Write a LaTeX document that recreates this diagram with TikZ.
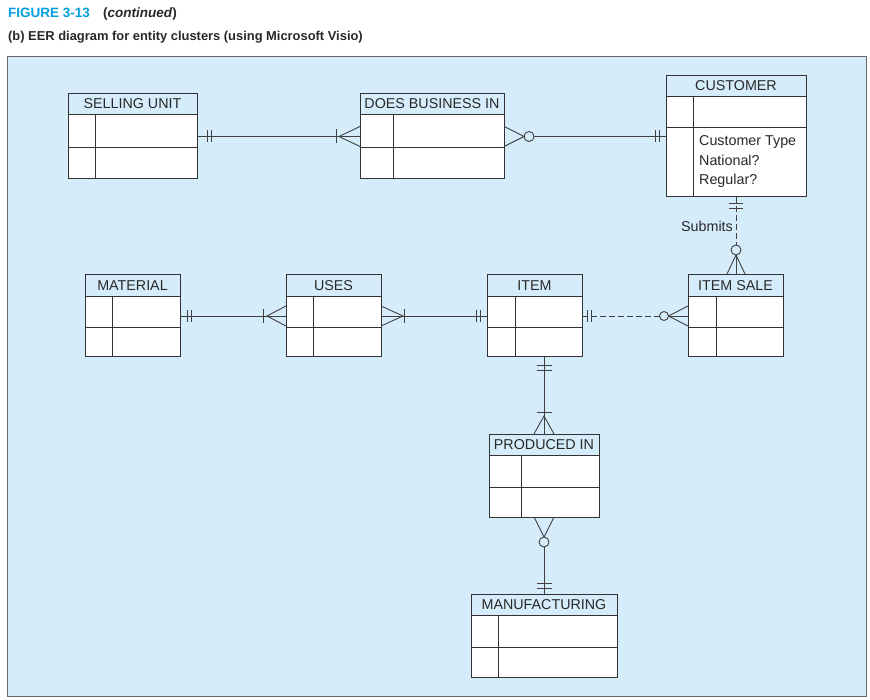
\documentclass[tikz,border=0pt]{standalone}
\usepackage{fontspec}
\setmainfont{Liberation Sans}
\usetikzlibrary{fit,calc}
\definecolor{panel}{RGB}{213,237,250}
\definecolor{ln}{RGB}{50,50,50}
\definecolor{cl}{RGB}{65,65,65}
\definecolor{figcyan}{RGB}{0,160,222}
\definecolor{ttl}{RGB}{40,40,40}
\tikzset{
  ebox/.style={draw=ln, line width=1pt, inner sep=0pt, outer sep=0pt},
  eline/.style={draw=ln, line width=0.9pt},
  etitle/.style={font=\fontsize{14.3}{16}\selectfont, text=ttl, inner sep=0pt},
  etext/.style={font=\fontsize{14.3}{16}\selectfont, text=ttl, inner sep=0pt, anchor=base west},
  conn/.style={draw=cl, line width=0.9pt},
  dashpat/.style={dash pattern=on 6pt off 3pt},
}
\newcommand{\entity}[9]{%
  \fill[white] (#2,#6) rectangle (#4,#5);
  \fill[panel] (#2,#3) rectangle (#4,#6);
  \draw[eline] (#2,#6) -- (#4,#6) (#2,#7) -- (#4,#7) (#8,#6) -- (#8,#5);
  \node[ebox, fit={(#2,#3)(#4,#5)}] (#1) {};
  \node[etitle] (#1-t) at ({(#2+#4)/2},{(#3+#6)/2}) {#9};
}
\begin{document}
\begin{tikzpicture}[x=1pt,y=-1pt]
\useasboundingbox (0,0) rectangle (870,700);
% titles
\node[anchor=base west, inner sep=0pt, text=figcyan, font=\bfseries\fontsize{13.5}{15}\selectfont] (fig) at (8,18) {FIGURE 3-13};
\node[anchor=base west, inner sep=0pt, text=ttl, font=\bfseries\fontsize{13.5}{15}\selectfont] (cont) at (103,18) {(\textit{continued})};
\node[anchor=base west, inner sep=0pt, text=ttl, font=\bfseries\fontsize{12.9}{15}\selectfont] (sub) at (8,41) {(b) EER diagram for entity clusters (using Microsoft Visio)};
% panel
\draw[draw=gray!80!black, line width=1pt, fill=panel] (7,57) rectangle (866,696);
% entities
\entity{su}{68}{94}{197}{179}{114}{147}{95}{SELLING UNIT}
\entity{dbi}{360}{94}{504}{179}{114}{147}{393}{DOES BUSINESS IN}
\entity{cust}{666}{76}{806}{197}{96}{127}{693}{CUSTOMER}
\entity{mat}{85}{275}{180}{357}{296}{327}{112}{MATERIAL}
\entity{uses}{286}{275}{381}{357}{296}{327}{313}{USES}
\entity{item}{487}{275}{582}{357}{296}{327}{515}{ITEM}
\entity{isale}{688}{275}{783}{357}{296}{327}{716}{ITEM SALE}
\entity{pi}{489}{434}{599}{517}{455}{487}{521}{PRODUCED IN}
\entity{mf}{471}{594}{617}{677}{615}{647}{498}{MANUFACTURING}
\node[etext] (ct1) at (699,146) {Customer Type};
\node[etext] (ct2) at (699,165.5) {National?};
\node[etext] (ct3) at (699,185) {Regular?};
% SELLING UNIT -- DOES BUSINESS IN
\draw[conn] (su.east) -- (dbi.west);
\draw[conn] ($(su.east)+(10,-6)$) -- ++(0,12) ($(su.east)+(14,-6)$) -- ++(0,12);
\draw[conn] ($(dbi.west)+(-24,-7)$) -- ++(0,14);
\draw[conn] ($(dbi.west)+(0,-10)$) -- ($(dbi.west)+(-21,0)$) -- ($(dbi.west)+(0,10)$);
% DOES BUSINESS IN -- CUSTOMER
\draw[conn] ($(dbi.east)+(0,-10)$) -- ($(dbi.east)+(20,0)$) -- ($(dbi.east)+(0,10)$);
\draw[conn] ($(dbi.east)+(25,0)$) circle[radius=5pt];
\draw[conn] ($(dbi.east)+(30,0)$) -- (cust.west);
\draw[conn] ($(cust.west)+(-11,-6)$) -- ++(0,12) ($(cust.west)+(-7,-6)$) -- ++(0,12);
% CUSTOMER -- ITEM SALE (Submits)
\draw[conn, dashpat] (cust.south) -- ($(cust.south |- isale.north)+(0,-30)$);
\draw[conn] ($(cust.south)+(-7,6)$) -- ++(14,0) ($(cust.south)+(-7,11)$) -- ++(14,0);
\draw[conn] ($(cust.south |- isale.north)+(0,-25)$) circle[radius=5pt];
\draw[conn] ($(cust.south |- isale.north)+(-9.5,0)$) -- ($(cust.south |- isale.north)+(0,-20)$) -- ($(cust.south |- isale.north)+(9.5,0)$);
\draw[conn] ($(cust.south |- isale.north)+(0,-20)$) -- (cust.south |- isale.north);
\node[etitle, anchor=base east] (subm) at (733,231.5) {Submits};
% MATERIAL -- USES
\draw[conn] (mat.east) -- (uses.west);
\draw[conn] ($(mat.east)+(7,-6)$) -- ++(0,12) ($(mat.east)+(11,-6)$) -- ++(0,12);
\draw[conn] ($(uses.west)+(-23,-7)$) -- ++(0,14);
\draw[conn] ($(uses.west)+(0,-10)$) -- ($(uses.west)+(-19,0)$) -- ($(uses.west)+(0,10)$);
% USES -- ITEM
\draw[conn] (uses.east) -- (item.west);
\draw[conn] ($(uses.east)+(0,-10)$) -- ($(uses.east)+(22,0)$) -- ($(uses.east)+(0,10)$);
\draw[conn] ($(uses.east)+(23.5,-7)$) -- ++(0,14);
\draw[conn] ($(item.west)+(-11,-6)$) -- ++(0,12) ($(item.west)+(-7,-6)$) -- ++(0,12);
% ITEM -- ITEM SALE (dashed)
\draw[conn] ($(item.east)+(5,-6)$) -- ++(0,12) ($(item.east)+(9,-6)$) -- ++(0,12);
\draw[conn, dashpat] (item.east) -- ($(isale.west)+(-28.5,0)$);
\draw[conn] ($(isale.west)+(-24,0)$) circle[radius=4.5pt];
\draw[conn] ($(isale.west)+(0,-10)$) -- ($(isale.west)+(-19.5,0)$) -- ($(isale.west)+(0,10)$);
\draw[conn] ($(isale.west)+(-19.5,0)$) -- (isale.west);
% ITEM -- PRODUCED IN
\draw[conn] (item.south -| pi.north) -- (pi.north);
\draw[conn] ($(item.south -| pi.north)+(-7.5,8)$) -- ++(15,0) ($(item.south -| pi.north)+(-7.5,13)$) -- ++(15,0);
\draw[conn] ($(pi.north)+(-7.5,-22)$) -- ++(15,0);
\draw[conn] ($(pi.north)+(-10,0)$) -- ($(pi.north)+(0,-18)$) -- ($(pi.north)+(10,0)$);
% PRODUCED IN -- MANUFACTURING
\draw[conn] ($(pi.south)+(-10,0)$) -- ($(pi.south)+(0,20)$) -- ($(pi.south)+(10,0)$);
\draw[conn] ($(pi.south)+(0,25)$) circle[radius=5pt];
\draw[conn] ($(pi.south)+(0,30)$) -- (mf.north);
\draw[conn] ($(mf.north)+(-7.5,-11)$) -- ++(15,0) ($(mf.north)+(-7.5,-6)$) -- ++(15,0);
\end{tikzpicture}
\end{document}
